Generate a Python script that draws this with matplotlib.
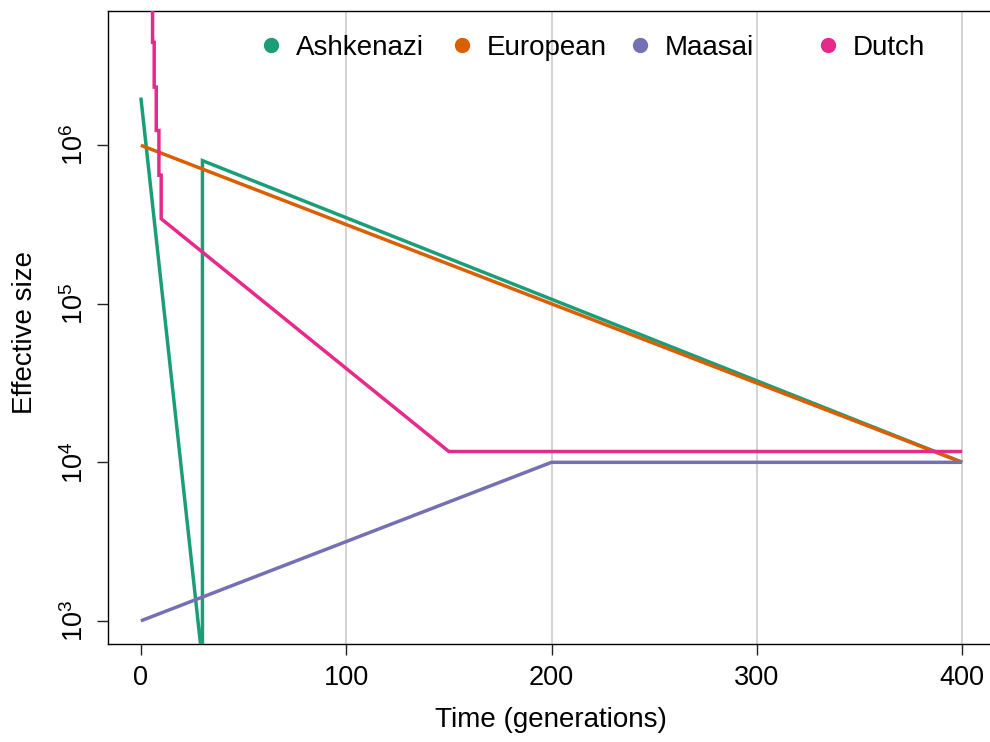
import numpy as np
import matplotlib
matplotlib.use("Agg")
import matplotlib.pyplot as plt
from matplotlib.lines import Line2D

matplotlib.rcParams.update({
    "font.family": ["Liberation Sans", "DejaVu Sans"],
    "font.size": 20,
    "mathtext.fontset": "custom",
    "mathtext.rm": "Liberation Sans",
    "mathtext.it": "Liberation Sans:italic",
    "mathtext.bf": "Liberation Sans:bold",
})

# ─── demographic histories (generations ago, effective size) ────────────────
ASH_GEN = [0, 30, 30, 400]
ASH_NE = [2.0e6, 550, 8.0e5, 1.0e4]

EUR_GEN = [0, 400]
EUR_NE = [1.0e6, 1.0e4]

MAA_GEN = [0, 200, 400]
MAA_NE = [1.0e3, 1.0e4, 1.0e4]

# recent Dutch expansion is piecewise constant, then exponential
DUTCH_GEN = [5.7, 5.7, 6.5, 6.5, 7.5, 7.5, 8.8, 8.8, 9.9, 9.9, 150, 400]
DUTCH_NE = [3.0e7, 4.46e6, 4.46e6, 2.33e6, 2.33e6, 1.24e6, 1.24e6,
            6.47e5, 6.47e5, 3.44e5, 1.17e4, 1.17e4]

POPS = ["Ashkenazi", "European", "Maasai", "Dutch"]
COLORS = ["#1B9E77", "#D95F02", "#7570B3", "#E7298A"]
GRID_GEN = [100, 200, 300, 400]
YTICKS = [1e3, 1e4, 1e5, 1e6]

W, H = 990, 742
fig = plt.figure(figsize=(W / 100, H / 100), dpi=100)
ax = fig.add_axes([108 / W, 1 - 644.3 / H, 887 / W, (644.3 - 11) / H])

for g in GRID_GEN:
    ax.axvline(g, color="#CCCCCC", lw=1.2, zorder=1)

series = [(ASH_GEN, ASH_NE), (EUR_GEN, EUR_NE), (MAA_GEN, MAA_NE),
          (DUTCH_GEN, DUTCH_NE)]
for (gen, ne), col in zip(series, COLORS):
    ax.plot(gen, ne, color=col, lw=2.5, solid_joinstyle="miter",
            solid_capstyle="butt", zorder=3)

ax.set_yscale("log")
ax.set_xlim(-16, 416)
ax.set_ylim(10 ** 2.852, 10 ** 6.847)
ax.set_xticks([0, 100, 200, 300, 400])
ax.set_yticks(YTICKS)
ax.set_yticklabels([r"$10^{%d}$" % int(np.log10(v)) for v in YTICKS])
ax.yaxis.set_minor_locator(matplotlib.ticker.NullLocator())
ax.tick_params(axis="both", direction="out", length=8, width=1.0,
               labelsize=19.5, color="#222222")
ax.tick_params(axis="x", pad=7)
ax.tick_params(axis="y", pad=6, labelrotation=90)
for lab in ax.get_yticklabels():
    lab.set_va("center")

for side in ["left", "bottom", "top"]:
    ax.spines[side].set_linewidth(1.0)
    ax.spines[side].set_color("black")
ax.spines["right"].set_visible(False)

fig.text(551 / W, 1 - 720 / H, "Time (generations)", ha="center",
         va="center", fontsize=20)
fig.text(25 / W, 1 - 332 / H, "Effective size", ha="center", va="center",
         rotation=90, fontsize=20)

# horizontal legend along the top of the panel
dot_x = [271, 462, 640, 828]
for name, col, dx in zip(POPS, COLORS, dot_x):
    fig.add_artist(Line2D([dx / W], [1 - 45 / H], marker="o", ms=10,
                          color=col, mec=col, transform=fig.transFigure))
    fig.text((dx + 25) / W, 1 - 45 / H, name, ha="left",
             va="center_baseline", fontsize=20)

fig.savefig("out.png", dpi=100)
